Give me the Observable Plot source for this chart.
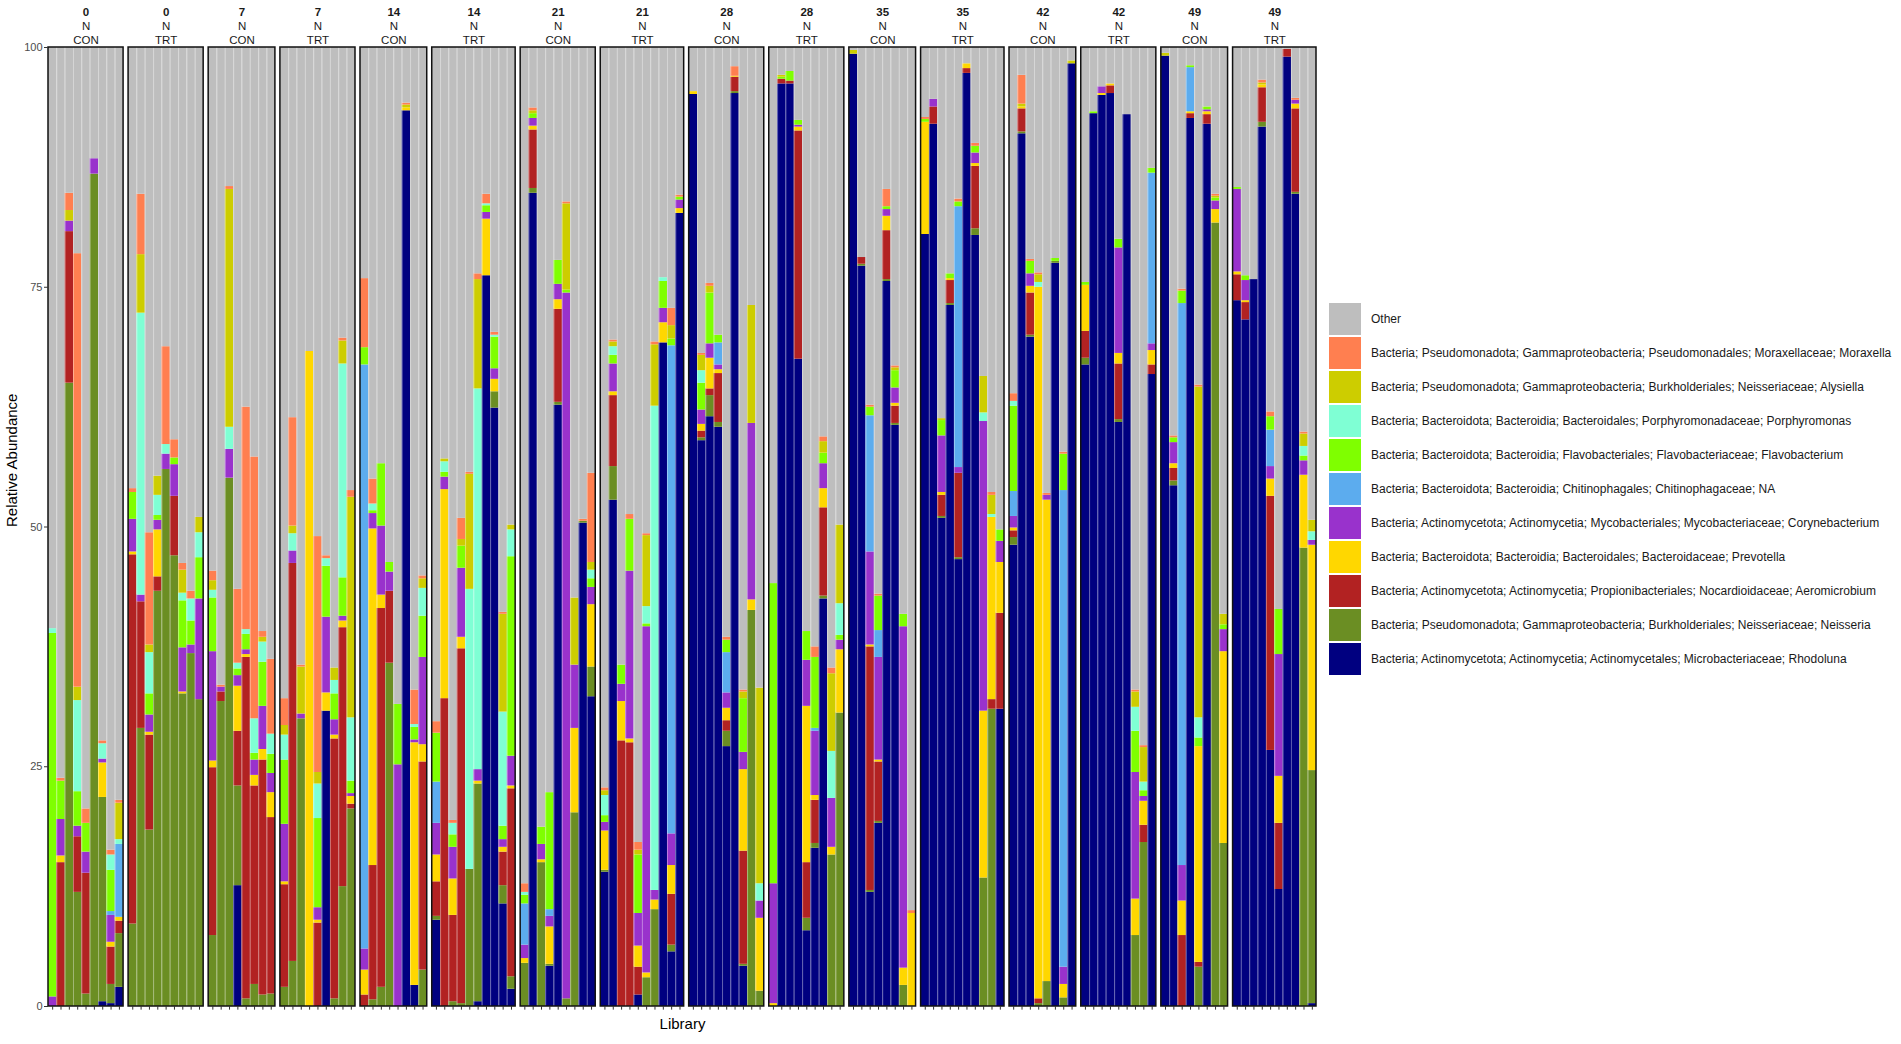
<!DOCTYPE html>
<html>
<head>
<meta charset="utf-8">
<script src="https://cdn.jsdelivr.net/npm/d3@7"></script>
<script src="https://cdn.jsdelivr.net/npm/@observablehq/plot@0.6"></script>
<style>
  html, body { margin: 0; padding: 0; background: #fff; }
  #wrap { position: relative; width: 1901px; height: 1044px; font-family: "Liberation Sans", Arial, Helvetica, sans-serif; }
  #chart { position: absolute; left: 0; top: 0; }
  #legend { position: absolute; left: 1329px; top: 303px; }
  .item { display: flex; align-items: center; height: 32px; margin-bottom: 2px; }
  .sw { width: 32px; height: 32px; flex: none; }
  .lab { margin-left: 10px; font-size: 12px; color: #1a1a1a; white-space: nowrap; }
</style>
</head>
<body>
<div id="wrap"><div id="chart"></div><div id="legend"></div></div>
<script>
// taxa in stacking order, bottom to top (Other is the remainder to 100)
const taxa = ["Rhodoluna","Neisseria","Aeromicrobium","Prevotella","Corynebacterium","NA","Flavobacterium","Porphyromonas","Alysiella","Moraxella"];
const taxaLabels = [
  "Bacteria; Actinomycetota; Actinomycetia; Actinomycetales; Microbacteriaceae; Rhodoluna",
  "Bacteria; Pseudomonadota; Gammaproteobacteria; Burkholderiales; Neisseriaceae; Neisseria",
  "Bacteria; Actinomycetota; Actinomycetia; Propionibacteriales; Nocardioidaceae; Aeromicrobium",
  "Bacteria; Bacteroidota; Bacteroidia; Bacteroidales; Bacteroidaceae; Prevotella",
  "Bacteria; Actinomycetota; Actinomycetia; Mycobacteriales; Mycobacteriaceae; Corynebacterium",
  "Bacteria; Bacteroidota; Bacteroidia; Chitinophagales; Chitinophagaceae; NA",
  "Bacteria; Bacteroidota; Bacteroidia; Flavobacteriales; Flavobacteriaceae; Flavobacterium",
  "Bacteria; Bacteroidota; Bacteroidia; Bacteroidales; Porphyromonadaceae; Porphyromonas",
  "Bacteria; Pseudomonadota; Gammaproteobacteria; Burkholderiales; Neisseriaceae; Alysiella",
  "Bacteria; Pseudomonadota; Gammaproteobacteria; Pseudomonadales; Moraxellaceae; Moraxella"
];
const taxaColors = ["#000080","#6B8E23","#B22222","#FFD700","#9932CC","#5CACEE","#7FFF00","#7FFFD4","#CDCD00","#FF7F50"];
const otherColor = "#BEBEBE";

const days = [0,0,7,7,14,14,21,21,28,28,35,35,42,42,49,49];
const nitrogen = ["N","N","N","N","N","N","N","N","N","N","N","N","N","N","N","N"];
const treatments = ["CON","TRT","CON","TRT","CON","TRT","CON","TRT","CON","TRT","CON","TRT","CON","TRT","CON","TRT"];
const yTicks = [0,25,50,75,100];

// each bar: [Rhodoluna, Neisseria, Aeromicrobium, Prevotella, Corynebacterium, NA, Flavobacterium, Porphyromonas, Alysiella, Moraxella]
const d0CON = [
  [0,0,0,0,1,0,37.9,0.5,0,0],[0,0,15,0.7,3.8,0,4,0,0,0.3],[0,65,15.8,0,1.1,0,0,0,1.1,1.8],
  [0,11.9,5.8,0,1.1,0,3.6,9.5,1.4,45.2],[0,1.3,12.6,0,2.2,0,3,0,0,1.5],[0,86.8,0,0,1.6,0,0,0,0,0],
  [0.5,21.3,0,3.6,0.4,0,0,1.6,0,0.3],[0.3,2,3.9,0.5,2.8,0.4,4.3,1.6,0,0.5],[2,5.6,1.3,0.4,0,7.6,0,0.5,3.8,0.3]
];
const d0TRT = [
  [0,8.6,38.5,0.3,3.4,0,2.8,0,0,0.4],[0,29,13.2,0,0.7,0,0,29.4,6.1,6.3],[0,18.4,9.9,0.3,1.8,0,2.2,4.3,0.8,11.7],
  [0,43.3,1.5,4.9,1,0,0.5,2.1,2,0],[0,56,0,0,1.6,0,0,1,0,10.2],[0,47,6.2,0,3.3,0,0.7,0,0,1.9],
  [0,32.6,0,0.2,4.6,0,4.9,0.8,2.4,0.7],[0,36.8,0,0,0.9,0,2.5,2.3,0,0.8],[0,32,0,0,10.5,0,4.3,2.6,1.6,0]
];
const d7CON = [
  [0,7.4,17.5,0.7,11.4,0,5.6,0.8,1,1],[0,31.8,1,0,0.5,0,0,0,0,0.2],[0,55.1,0,0,3,0,0,2.3,24.8,0.3],
  [12.6,10.4,5.7,4.7,1.1,0,0.7,0.6,0,7.7],[0,0.8,35.6,0.3,0.5,0,1.6,0.5,0,23.2],[0,2.3,20.7,1.1,1.6,0,0.7,3.6,0,27.3],
  [0,1.2,24.5,1.1,4.5,0,4.6,2.1,0.5,0.6],[0,1.3,18.4,2.6,2,0,2,2.1,0,7.8]
];
const d7TRT = [
  [0,2,10.7,0.3,6,0,6.7,2.6,1,2.8],[0,4.7,41.5,0,1.3,0,0,1.8,0.8,11.3],[0,30,0,0,0.5,0,0,0,4.9,0.2],
  [0,0,0,68.3,0,0,0,0,0,0],[0,0,8.7,0.3,1.3,0,9.3,3.6,1.2,24.6],[30.8,0,0,1.9,7.9,0,5.3,0.8,0,0.3],
  [0,0.8,27.1,0.4,1.6,0,2.7,1.4,1.3,0],[0,12.5,27,0.7,0.5,0,4,22.3,2.4,0.3],[0,20.6,0.5,0.8,0.3,0,1.3,6.6,23,0.7]
];
const d14CON = [
  [0,0,1.2,2.6,2.2,60.9,1.8,0,0,7.2],[0,0.7,14,35.1,1.6,0,0.3,0.7,0,2.6],[0,2,39.5,1.4,7.2,0,6.5,0,0,0],
  [0,35.8,7.5,0,2,0,1,0,0,0],[0,0,0,0,25.2,0,6.3,0,0,0],[93.4,0,0,0.3,0,0,0,0,0.3,0.2],
  [2.2,0,0,25.3,0.3,0,1.3,0.3,0,3.6],[0,3.8,21.7,1.8,9.1,0,4.3,2.9,1,0.3]
];
const d14TRT = [
  [9,0.4,3.6,2.8,3.3,4.3,5.1,0,0,1.2],[0,0,32.1,21.8,1.3,0,0.5,1.1,0.3,0],[0,0.5,9,3.8,3.3,0,1.3,1.2,0,0.3],
  [0,0.3,37,1.2,7.2,0,2.3,0,0.7,2.2],[0,14.3,0,0,0,0,0,29.2,12,0.2],[0.5,22.7,0,0.3,1.2,0,0,39.7,11.4,0.6],
  [76.2,0,0,5.9,0.7,0,0.7,0.2,0,1],[62.4,1.7,0,1.3,1.1,0,3.3,0.2,0,0.3],[10.7,1.9,3.5,0.5,0.8,0,1.4,11.9,10.2,0.2],
  [1.8,1.3,19.6,0.3,3.1,0,20.8,2.8,0.5,0]
];
const d21CON = [
  [0,4.5,0,0.5,1.4,4.3,0.9,0.3,0,0.9],[84.8,0.5,6.1,0.4,0.8,0,0.5,0,0.3,0.3],[0,15,0,0.3,1.6,0,1.8,0,0,0],
  [4.2,0.2,0,3.9,1.1,0.7,12.2,0,0,0],[62.7,0.3,9.7,1,1.6,0,2.5,0,0,0],[0,0.8,0,0,73.6,0,0.3,0,9,0.2],
  [0,20.2,0,8.8,6.6,0,0,0,7,0],[50.4,0.2,0,0,0,0,0,0,0,0.2],[32.3,3.1,0,6.5,1.8,0,0.9,0.9,0.8,9.3]
];
const d21TRT = [
  [14,0.2,0,4.1,0.9,0,0.7,2.1,0.5,0.3],[52.8,3.5,7.4,0.4,2.9,0,0.9,0.9,0.5,0.2],[0,0,27.7,4.1,1.8,0,2,0,0,0],
  [0,0,27.5,0.4,17.5,0,5.4,0,0,0.5],[1.2,0,2.9,2.2,3.4,0,6.1,0,0.5,0.8],[0,3,0,0.5,36.1,0,0.3,1.8,7.4,0.2],
  [0,10.1,0,1,1,0,0,50.5,6.4,0.3],[69.2,0,0,2.1,1.5,0,2.8,0.4,0,0],[5.7,0.7,5.3,3,3.3,50.9,0.7,0,1.4,1.8],
  [82.7,0,0,0.5,0.9,0,0.3,0,0,0.2]
];
const d28CON = [
  [95.1,0,0,0.3,0,0,0,0,0,0],[59,0.3,0.7,0.7,1.5,0,2.8,1.3,1.6,0.2],[61.5,2.2,0.7,3.2,1.5,0,5.3,0,0.7,0.3],
  [60.4,0.5,5.1,0.4,0.5,2.3,0.8,0,0,0],[27.1,1.6,1.1,1.3,1.6,4.2,1.3,0,0,0.3],[95.2,0.2,1.5,0.1,0,0,0,0,0,1],
  [4.2,0.2,11.8,8.5,1.8,0,5.6,0,0.7,0.2],[0,41.3,0,1.1,18.4,0,0,0,12.3,0],[0,1.6,0,7.6,1.8,0,0,1.8,20.4,0]
];
const d28TRT = [
  [0,0,0,0.3,12.5,0,31.3,0,0,0],[96.2,0,0.5,0,0,0,0.2,0,0.2,0],[96.2,0,0.3,0,0,0,1,0,0,0],
  [67.5,0,23.8,0.4,0.2,0,0.5,0,0,0],[7.9,1.3,5.8,16.3,4.8,0,3,0,0,0],[16.5,0.5,4.5,0.5,6.7,0.3,7.4,0,0,1.1],
  [42.5,0.3,9.2,2,2.6,0,1.1,0,1.2,0.5],[0,15.8,0,0.8,5.1,0,0,4.9,8.1,0.6],[0,30.6,0,6.6,1,0,0.5,3.3,8.2,0]
];
const d35CON = [
  [99.3,0,0,0,0,0,0,0,0.4,0],[77.2,0.2,0.7,0,0,0,0,0,0,0],[11.9,0.2,25.4,0.2,9.7,14.2,0.9,0,0,0.2],
  [19.1,0.2,6.2,0.2,10.7,2.8,3.6,0,0,0.2],[75.6,0.2,5.1,1.5,0.7,0,0.3,0,0,1.8],[60.6,0.2,1.8,0.3,1.6,0,1.8,0,0.3,0.2],
  [0,2.2,0,1.8,35.6,0,1.3,0,0,0],[0,0,0,9.7,0,0,0,0,0,0.3]
];
const d35TRT = [
  [80.5,0,0,11.7,0,0,0.3,0,0,0.2],[92,0,1.8,0,0.8,0,0,0,0,0],[50.9,0.2,2.2,0.3,5.9,0,1.6,0,0.2,0],
  [73.1,0.2,2.4,0.2,0,0,0.5,0,0,0],[46.6,0.2,8.8,0,0.6,27.2,0.5,0,0,0.3],[97.3,0,0.5,0.5,0,0,0,0,0,0],
  [80.4,0.7,6.5,0.3,1.1,0,0.7,0,0,0.3],[0,13.4,0,17.4,30.2,0,0,0.9,3.8,0],[0,31,1,19,0,0,0,0.3,2,0.3],
  [31,0,10,5.3,2.2,0,1.2,0,0,0]
];
const d42CON = [
  [48.1,0.8,0.7,0.3,1.2,2.6,8.9,0.5,0,0.8],[91,0.2,2.4,0.2,0,0,0,0,0.3,3],[69.8,0.2,4.4,0.7,1.3,0,1.3,0,0,0.2],
  [0,0.3,0.5,74.2,0,0,0,0.5,0.8,0.2],[0,2.6,0,50.2,0.5,0,0,0,0,0.2],[77.5,0.2,0,0,0,0,0.3,0,0,0],
  [0,0.9,0,1.4,1.8,49.7,3.8,0,0,0.2],[98.3,0,0,0,0,0,0,0,0.3,0]
];
const d42TRT = [
  [66.9,0.7,2.8,4.8,0,0,0.3,0,0,0],[93.1,0,0,0,0,0,0.2,0,0,0],[95,0,0,0.2,0.7,0,0,0,0,0],
  [95.2,0,0.8,0.2,0,0,0,0,0,0],[60.9,0.3,5.8,1.1,11,0,0.9,0,0,0],[93,0,0,0,0,0,0,0,0,0],
  [0,7.4,0,3.8,13.2,0,4.3,2.5,1.6,0.2],[0,17.1,1.8,2.5,0.5,0,0.6,0.9,3.6,0.2],[65.9,0,1,1.5,0.7,17.8,0.5,0,0,0]
];
const d49CON = [
  [99.1,0,0,0,0,0,0,0,0.3,0],[54.3,0.5,1.3,0.5,2.2,0,0.5,0,0,0.2],[0,0,7.4,3.6,3.7,58.6,1.3,0,0,0.2],
  [92.6,0,0.5,0.2,0,4.6,0.2,0,0,0],[0,4.1,0.5,22.5,0,0,0.9,2.1,34.5,0.2],[92,0,1,0.3,0.2,0,0.3,0,0,0],
  [0,81.7,0,1.4,0.9,0,0.3,0,0.2,0.2],[0,17,0,20,2.3,0,0.5,0,1.1,0]
];
const d49TRT = [
  [73.6,0,2.7,0.3,8.6,0,0.2,0,0,0],[71.6,0,1.8,0.2,2.1,0,0.5,0,0,0],[75.8,0,0,0,0,0,0,0,0,0],
  [91.7,0.5,3.6,0.3,0,0,0,0,0.2,0.3],[26.7,0,26.5,1.8,1.3,3.8,1.4,0,0,0.5],[12.2,0,6.9,4.9,12.7,0,4.7,0,0,0],
  [99,0,0.8,0,0,0,0,0,0,0],[84.7,0.2,8.7,0.5,0.4,0,0,0,0,0.2],[0,47.8,0,7.6,1.5,0,0.5,1,1.3,0.2],
  [0.3,24.3,0,23.5,0.5,0,0,0.9,1.2,0]
];

const facetBars = [d0CON,d0TRT,d7CON,d7TRT,d14CON,d14TRT,d21CON,d21TRT,d28CON,d28TRT,d35CON,d35TRT,d42CON,d42TRT,d49CON,d49TRT];

// ---- build tables from the arrays ----
const GAP = 0.6; // space between facet panels, in bar units
const segs = [], panels = [], barCenters = [], separators = [];
let offset = 0;
facetBars.forEach((bars, f) => {
  const start = offset;
  bars.forEach((vals, i) => {
    const x1 = start + i, x2 = x1 + 1;
    let cum = 0;
    vals.forEach((v, k) => {
      if (v > 0) segs.push({x1, x2, y1: cum, y2: cum + v, taxon: taxa[k]});
      cum += v;
    });
    segs.push({x1, x2, y1: cum, y2: 100, taxon: "Other"});
    barCenters.push({x: x1 + 0.5});
    if (i > 0) separators.push({x: x1});
  });
  const end = start + bars.length;
  panels.push({x1: start, x2: end, xc: (start + end) / 2, day: String(days[f]), n: nitrogen[f], trt: treatments[f]});
  offset = end + GAP;
});
const totalUnits = offset - GAP;

const colorDomain = [...taxa, "Other"];
const colorRange = [...taxaColors, otherColor];

const chart = Plot.plot({
  width: 1325,
  height: 1044,
  marginLeft: 48,
  marginRight: 9,
  marginTop: 47,
  marginBottom: 38,
  style: {fontFamily: "'Liberation Sans', Arial, Helvetica, sans-serif", background: "white", overflow: "visible"},
  x: {domain: [0, totalUnits], axis: null},
  y: {domain: [0, 100]},
  color: {domain: colorDomain, range: colorRange},
  marks: [
    Plot.rect(segs, {x1: "x1", x2: "x2", y1: "y1", y2: "y2", fill: "taxon"}),
    Plot.ruleX(separators, {x: "x", y1: 0, y2: 100, stroke: "white", strokeOpacity: 0.45, strokeWidth: 0.8}),
    Plot.rect(panels, {x1: "x1", x2: "x2", y1: 0, y2: 100, fill: "none", stroke: "#111", strokeWidth: 1.5}),
    Plot.ruleX(barCenters, {x: "x", y1: 0, y2: -0.38, stroke: "#333", strokeWidth: 1}),
    Plot.axisY({ticks: yTicks, tickSize: 4, tickPadding: 2, fontSize: 11, color: "#4d4d4d", stroke: "#333", label: null}),
    Plot.text(panels, {x: "xc", y: 100, text: "day", dy: -35, fontSize: 11.5, fontWeight: "bold", fill: "#1a1a1a"}),
    Plot.text(panels, {x: "xc", y: 100, text: "n", dy: -21, fontSize: 11.5, fill: "#1a1a1a"}),
    Plot.text(panels, {x: "xc", y: 100, text: "trt", dy: -7, fontSize: 11.5, fill: "#1a1a1a"}),
    Plot.text(["Relative Abundance"], {frameAnchor: "left", dx: -36, rotate: -90, fontSize: 15, fill: "black"}),
    Plot.text(["Library"], {frameAnchor: "bottom", dy: 22, fontSize: 15, fill: "black"})
  ]
});
document.getElementById("chart").appendChild(chart);

// ---- legend ----
const legend = document.getElementById("legend");
const legendItems = [{label: "Other", color: otherColor}];
for (let k = taxa.length - 1; k >= 0; k--) legendItems.push({label: taxaLabels[k], color: taxaColors[k]});
legendItems.forEach(d => {
  const item = document.createElement("div");
  item.className = "item";
  const sw = document.createElement("div");
  sw.className = "sw";
  sw.style.background = d.color;
  const lab = document.createElement("div");
  lab.className = "lab";
  lab.textContent = d.label;
  item.appendChild(sw);
  item.appendChild(lab);
  legend.appendChild(item);
});
</script>
</body>
</html>
